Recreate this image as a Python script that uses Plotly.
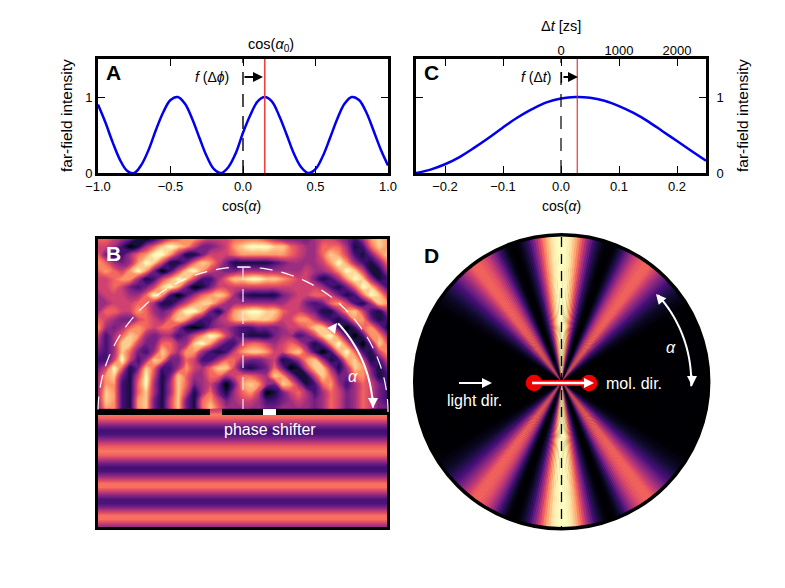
import numpy as np
import plotly.graph_objects as go

# STEP 1: values
# panel A curve
a_x = [-1.0, -0.95, -0.9, -0.85, -0.8, -0.75, -0.7, -0.65, -0.6, -0.55, -0.5, -0.45, -0.4, -0.35, -0.3, -0.25, -0.2,
       -0.15, -0.1, -0.05, 0.0, 0.05, 0.1, 0.15, 0.2, 0.25, 0.3, 0.35, 0.4, 0.45, 0.5, 0.55, 0.6, 0.65, 0.7, 0.75,
       0.8, 0.85, 0.9, 0.95, 1.0]
a_y = [0.9, 0.67, 0.41, 0.18, 0.03, 0.0, 0.11, 0.31, 0.57, 0.8, 0.96, 1.0, 0.91, 0.71, 0.46, 0.22, 0.05,
       0.0, 0.08, 0.26, 0.53, 0.76, 0.94, 1.0, 0.94, 0.75, 0.51, 0.26, 0.08, 0.0, 0.05, 0.22, 0.46, 0.71, 0.91, 1.0,
       0.96, 0.8, 0.56, 0.31, 0.1]
a_zero = 0.0
a_red = 0.15

# panel C curve
c_x = [-0.25, -0.225, -0.2, -0.175, -0.15, -0.125, -0.1, -0.075, -0.05, -0.025, 0.0, 0.025, 0.05, 0.075, 0.1, 0.125,
       0.15, 0.175, 0.2, 0.225, 0.25]
c_y = [0.0, 0.045, 0.115, 0.21, 0.33, 0.46, 0.6, 0.73, 0.84, 0.93, 0.98, 1.0, 0.99, 0.95, 0.88, 0.79,
       0.68, 0.55, 0.42, 0.29, 0.16]
c_zero = 0.0
c_red = 0.028

# panel B, field above the wall: one digit per cell, 0 = black, 9 = palest
b_rows = [
    "6654310135677655566665433334554324787",
    "5542014689875334578999886544666412687",
    "6312467997411355567777776544687521368",
    "7643479851136875311111234444579742136",
    "6765797302589754334444444454457985114",
    "5567741257985224688998876553124798412",
    "5565323589730135555555555555421369852",
    "4555446972024678742111134556653126985",
    "4455566411357886444444445532367521487",
    "4665576434799731478998865543114785214",
    "6543356546874224578888755775321377312",
    "7434676566410134432233345568852026741",
    "5246874344235798532111344235896202774",
    "4248853366448974225665456531379620386",
    "3248632486477421257887557852027962157",
    "2259524873365224664334512478412785125",
    "3596138622475468852123630158841487313",
    "4783159513864466456654874115863367412",
    "4772169414863453037874387412674246532",
    "4872168414851463146750135642465346532",
    "4872178315831675345542234543465346532",
    "4772178315831686444443344443465346533",
]

# panel B, field below the wall
stripe_y = [0.55, 0.72, 0.66, 0.5, 0.33, 0.22, 0.24, 0.36, 0.52, 0.66, 0.72, 0.66, 0.5, 0.33, 0.22, 0.24, 0.38, 0.55,
            0.7, 0.7, 0.55, 0.38, 0.24, 0.24, 0.36, 0.55, 0.7, 0.7, 0.55, 0.38]

# panel D, intensity from the vertical (every degree, 0 to 90)
d_profile = [1.0, 1.0, 0.99, 0.97, 0.94, 0.88, 0.82, 0.74, 0.66, 0.56, 0.46, 0.37, 0.29, 0.21, 0.15, 0.1, 0.06, 0.03,
             0.01, 0.0, 0.0, 0.01, 0.03, 0.07, 0.12, 0.18, 0.25, 0.32, 0.39, 0.45, 0.51, 0.56, 0.6, 0.63, 0.65, 0.67,
             0.67, 0.67, 0.65, 0.61, 0.56, 0.51, 0.46, 0.41, 0.36, 0.32, 0.27, 0.23, 0.2, 0.17, 0.14, 0.11, 0.09, 0.07,
             0.05, 0.04, 0.03, 0.02, 0.01, 0.005, 0.0, 0.0, 0.0, 0.0, 0.0, 0.0, 0.0, 0.0, 0.0, 0.0, 0.0, 0.0,
             0.0, 0.0, 0.0, 0.0, 0.0, 0.0, 0.0, 0.0, 0.0, 0.0, 0.0, 0.0, 0.0, 0.0, 0.0, 0.0, 0.0, 0.0, 0.0]

W, H = 785, 588
FONT = "Liberation Sans"
BLUE = "#0000ee"
RED = "#f04040"


def X(p):
    return p / W


def Y(p):
    return 1 - p / H


def arc(cx, cy, r, a0, a1):
    # polyline for an arc, angles in degrees from the +x direction, screen y going down
    t = np.radians(np.linspace(a0, a1, 80))
    pts = [f"{X(cx + r * np.cos(v)):.5f},{Y(cy - r * np.sin(v)):.5f}" for v in t]
    return "M " + " L ".join(pts)


fig = go.Figure()

# STEP 2: line panels
fig.add_trace(go.Scatter(x=a_x, y=a_y, mode="lines", line=dict(color=BLUE, width=2.5, shape="spline"),
                         xaxis="x", yaxis="y"))
fig.add_trace(go.Scatter(x=[a_zero, a_zero], y=[0, 1.5], mode="lines",
                         line=dict(color="black", width=1.4, dash="13px,9px"), xaxis="x", yaxis="y"))
fig.add_trace(go.Scatter(x=[a_red, a_red], y=[0, 1.5], mode="lines", line=dict(color=RED, width=1.6),
                         xaxis="x", yaxis="y"))

fig.add_trace(go.Scatter(x=c_x, y=c_y, mode="lines", line=dict(color=BLUE, width=2.5, shape="spline"),
                         xaxis="x2", yaxis="y2"))
fig.add_trace(go.Scatter(x=[c_zero, c_zero], y=[0, 1.5], mode="lines",
                         line=dict(color="black", width=1.2, dash="13px,9px"), xaxis="x2", yaxis="y2"))
fig.add_trace(go.Scatter(x=[c_red, c_red], y=[0, 1.5], mode="lines", line=dict(color="#ee2020", width=1.1),
                         xaxis="x2", yaxis="y2"))
# only there so that the top axis of panel C gets drawn
fig.add_trace(go.Scatter(x=[0], y=[0], mode="lines", showlegend=False, xaxis="x4", yaxis="y2"))

# STEP 3: panel B, stripes and the field above them
fig.add_trace(go.Heatmap(z=[[v, v] for v in stripe_y], x=[90, 396], y0=410, dy=4.05, zmin=0, zmax=1,
                         colorscale="Magma", zsmooth="best", showscale=False, xaxis="x3", yaxis="y3"))
b_z = [[int(c) / 9 for c in row] for row in b_rows]
fig.add_trace(go.Contour(z=b_z, x0=98, dx=8.03, y0=238.5, dy=8.1, zmin=0, zmax=1, colorscale="Magma", showscale=False,
                         contours=dict(coloring="fill", start=0, end=1, size=0.03, showlines=False),
                         line=dict(width=0, smoothing=1.3), xaxis="x3", yaxis="y3"))

# STEP 4: panel D fan
quarter = np.array(d_profile)
half = np.concatenate([quarter, quarter[-2::-1]])
full = np.concatenate([half, half[-2:0:-1]])
fig.add_trace(go.Barpolar(theta=np.arange(len(full)), r=np.ones(len(full)), width=1.3,
                          marker=dict(color=full, colorscale="Magma", cmin=0, cmax=1, line=dict(width=0))))

# STEP 5: layout
axis = dict(showline=True, linecolor="black", linewidth=2.6, mirror="ticks", ticks="inside", ticklen=7, tickwidth=1,
            tickcolor="black", showgrid=False, zeroline=False, tickfont=dict(family=FONT, size=13, color="black"))
plain = dict(showticklabels=False, ticks="", showgrid=False, zeroline=False, showline=True, linecolor="black",
             linewidth=2.6, mirror=True)
fig.update_layout(
    width=W, height=H, margin=dict(l=0, r=0, t=0, b=0, autoexpand=False), showlegend=False, paper_bgcolor="white",
    plot_bgcolor="white",
    xaxis=dict(axis, domain=[X(98), X(388)], range=[-1, 1], tickvals=[-1, -0.5, 0, 0.5, 1],
               ticktext=["\u22121.0", "\u22120.5", "0.0", "0.5", "1.0"], anchor="y"),
    yaxis=dict(axis, domain=[Y(173), Y(59)], range=[0, 1.5], tickvals=[0, 1], anchor="x"),
    xaxis2=dict(axis, domain=[X(416), X(706)], range=[-0.25, 0.25], tickvals=[-0.2, -0.1, 0, 0.1, 0.2],
                ticktext=["\u22120.2", "\u22120.1", "0.0", "0.1", "0.2"], anchor="y2"),
    yaxis2=dict(axis, domain=[Y(173), Y(59)], range=[0, 1.5], tickvals=[0, 1], side="right", anchor="x2",
                ticklabelstandoff=5),
    xaxis4=dict(domain=[X(416), X(706)], range=[-2500, 2500], tickvals=[0, 1000, 2000], side="top", anchor="y2",
                overlaying="x2", showgrid=False, zeroline=False, ticks="",
                tickfont=dict(family=FONT, size=13, color="black")),
    xaxis3=dict(plain, domain=[X(98), X(387)], range=[98, 387], anchor="y3"),
    yaxis3=dict(plain, domain=[Y(527), Y(238.5)], range=[527, 238.5], anchor="x3"),
    polar=dict(domain=dict(x=[X(561.7 - 147), X(561.7 + 147)], y=[Y(381.7 + 147), Y(381.7 - 147)]),
               bgcolor="black",
               radialaxis=dict(visible=False, range=[0, 1]),
               angularaxis=dict(rotation=90, direction="clockwise", showticklabels=False, ticks="", showgrid=False,
                                showline=True, linecolor="black", linewidth=3.5)),
)


# STEP 6: things drawn on top of the panels, placed in page pixels
def rect(x0, y0, x1, y1, color):
    return dict(type="rect", xref="paper", yref="paper", x0=X(x0), x1=X(x1), y0=Y(y0), y1=Y(y1),
                fillcolor=color, line=dict(width=0), layer="above")


def seg(x0, y0, x1, y1, color, width, dash="solid"):
    return dict(type="line", xref="paper", yref="paper", x0=X(x0), x1=X(x1), y0=Y(y0), y1=Y(y1),
                line=dict(color=color, width=width, dash=dash), layer="above")


def curve(path, color, width, dash="solid"):
    return dict(type="path", xref="paper", yref="paper", path=path, line=dict(color=color, width=width, dash=dash),
                layer="above")


def dot(cx, cy, r, color):
    return dict(type="circle", xref="paper", yref="paper", x0=X(cx - r), x1=X(cx + r), y0=Y(cy + r), y1=Y(cy - r),
                fillcolor=color, line=dict(width=0), layer="above")


shapes = [
    # wall of panel B with its two openings
    rect(98, 409, 210, 415, "black"), rect(222, 409, 263, 415, "black"), rect(276, 409, 388, 415, "black"),
    rect(263, 409, 276, 415, "white"),
    curve(arc(243, 412, 145, 0, 180), "white", 1.2, "13px,9px"),
    seg(243, 267, 243, 409, "rgba(235,225,240,0.85)", 1.5, "13px,9px"),
    seg(237, 267, 249, 267, "rgba(235,225,240,0.85)", 1.3),
    curve(arc(243, 412, 130, 2, 43), "white", 2),
    # panel D
    seg(561.5, 237, 561.5, 527, "black", 1.3, "10px,7px"),
    rect(534, 380, 590, 386, "#f00000"),
    dot(534, 383, 8.3, "#f00000"), dot(589, 383, 8.3, "#f00000"),
    curve(arc(561.7, 381.7, 129.5, -2, 42), "white", 2),
    seg(459, 383, 486, 383, "white", 2),
    seg(532, 383, 588, 383, "white", 2.6),
    # little stop at the start of the arrow in C
    seg(561.5, 72, 561.5, 83, "black", 1.2),
]


def label(x, y, text, size=14, color="black", angle=0):
    return dict(xref="paper", yref="paper", x=X(x), y=Y(y), text=text, showarrow=False, textangle=angle,
                xanchor="center", yanchor="middle", font=dict(family=FONT, size=size, color=color))


def arrow(x, y, dx, dy, color, width=2, size=1):
    return dict(xref="paper", yref="paper", x=X(x), y=Y(y), ax=dx, ay=dy, text="", showarrow=True, arrowhead=2,
                arrowsize=size, arrowwidth=width, arrowcolor=color, standoff=0)


annotations = [
    label(113, 73, "<b>A</b>", 21), label(431, 73, "<b>C</b>", 21),
    label(113, 254, "<b>B</b>", 21, "white"), label(431, 255, "<b>D</b>", 21),
    label(66, 116, "far-field intensity", 15.5, angle=-90), label(742, 116, "far-field intensity", 15.5, angle=-90),
    label(241, 206, "cos(<i>\u03b1</i>)"), label(561, 206, "cos(<i>\u03b1</i>)"),
    label(271, 45, "cos(<i>\u03b1</i><sub>0</sub>)", 14.5), label(561, 26, "\u0394<i>t</i> [zs]", 14.5),
    label(212, 77, "<i>f</i> (\u0394<i>\u03d5</i>)"), label(536, 77, "<i>f</i> (\u0394<i>t</i>)"),
    label(270, 429, "phase shifter", 16, "white"), label(353, 376, "<i>\u03b1</i>", 16, "white"),
    label(474, 400, "light dir.", 16, "white"), label(634, 383, "mol. dir.", 16, "white"),
    label(671, 347, "<i>\u03b1</i>", 16, "white"),
    arrow(263, 77, -20, 0, "black"), arrow(578, 77, -16, 0, "black"),
    arrow(337, 323, -6, 8, "white"), arrow(373, 408, 0, -12, "white"),
    arrow(656, 294, 6, 7, "white"), arrow(692, 386, 0, -12, "white"),
    arrow(492, 383, -10, 0, "white"), arrow(594, 383, -10, 0, "white"),
]

fig.update_layout(shapes=shapes, annotations=annotations)

fig.write_html("out.html", config=dict(displayModeBar=False), post_script="document.body.style.margin='0';")
